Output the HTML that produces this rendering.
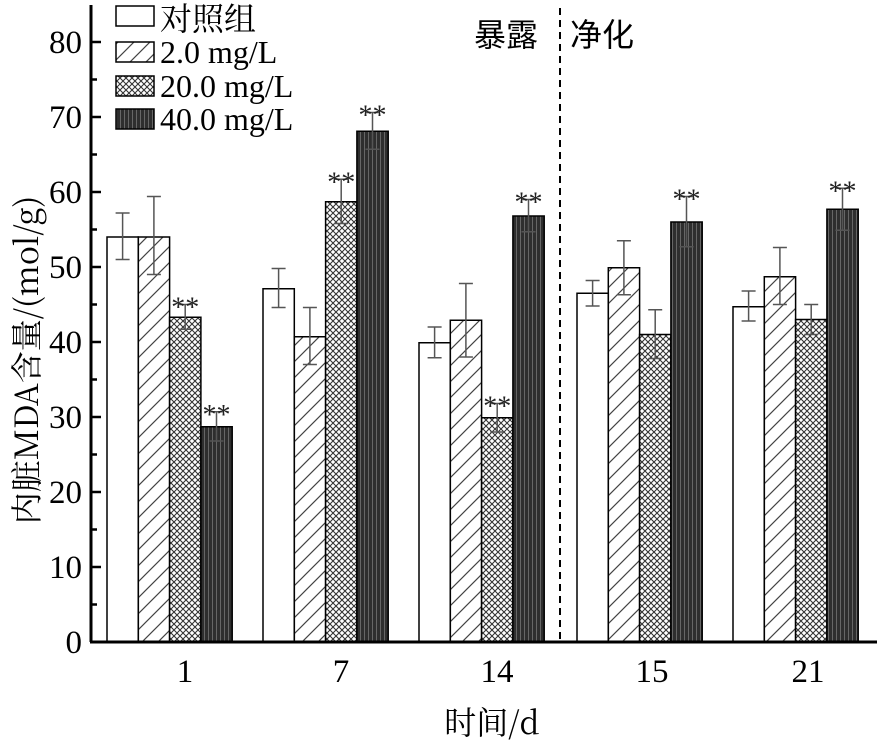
<!DOCTYPE html><html><head><style>body{margin:0;background:#fff}</style></head><body>
<svg width="887" height="746" xmlns="http://www.w3.org/2000/svg" font-family="'Liberation Serif','Noto Serif CJK SC',serif">
<defs>
<pattern id="h" width="16" height="16" patternUnits="userSpaceOnUse"><path d="M-4,20 L20,-4 M-4,4 L4,-4 M12,20 L20,12" stroke="#444" stroke-width="1.2"/></pattern>
<pattern id="c" width="6" height="6" patternUnits="userSpaceOnUse"><rect width="6" height="6" fill="#fff"/><path d="M0,0 L6,6 M6,0 L0,6" stroke="#333" stroke-width="1.1"/></pattern>
<pattern id="b" width="4" height="4" patternUnits="userSpaceOnUse"><rect width="4" height="4" fill="#2e2e2e"/><rect x="0" width="1" height="4" fill="#666"/></pattern>
</defs>
<g id="bars" stroke="#000" stroke-width="1.5"></g>
<g id="err" stroke="#555" stroke-width="1.5"></g>
<g id="stars" font-size="28" text-anchor="middle" fill="#222"></g>
<line x1="560" y1="8" x2="560" y2="641" stroke="#000" stroke-width="2" stroke-dasharray="7,5"/>
<text x="474" y="46" font-size="32" font-family="'Noto Sans CJK SC',sans-serif">暴露</text>
<text x="570" y="46" font-size="32" font-family="'Noto Sans CJK SC',sans-serif">净化</text>
<line x1="91" y1="5" x2="91" y2="642" stroke="#000" stroke-width="3"/>
<line x1="90" y1="642" x2="877" y2="642" stroke="#000" stroke-width="3"/>
<g id="ticks" stroke="#000" stroke-width="2.5"></g>
<g id="yl" font-size="33" text-anchor="end"></g>
<g font-size="33" text-anchor="middle">
<text x="185" y="682">1</text><text x="341" y="682">7</text><text x="497" y="682">14</text><text x="652" y="682">15</text><text x="808" y="682">21</text>
<text x="492" y="734" font-family="'Noto Serif CJK SC',serif" font-size="32">时间/d</text>
</g>
<text transform="translate(38,360) rotate(-90)" font-size="32" text-anchor="middle" font-family="'Noto Serif CJK SC',serif">内脏MDA含量/(mol/g)</text>
<g stroke="#000" stroke-width="1.5">
<rect x="116" y="6" width="38" height="20" fill="#fff"/>
<rect x="116" y="42" width="38" height="20" fill="url(#h)"/>
<rect x="116" y="76" width="38" height="20" fill="url(#c)"/>
<rect x="116" y="109" width="38" height="20" fill="url(#b)"/>
</g>
<g font-size="32">
<text x="160" y="30" font-family="'Noto Serif CJK SC',serif">对照组</text>
<text x="160" y="63">2.0 mg/L</text>
<text x="160" y="97">20.0 mg/L</text>
<text x="160" y="130">40.0 mg/L</text>
</g>
<script>
var ns="http://www.w3.org/2000/svg";
function el(p,t,a,tx){var e=document.createElementNS(ns,t);for(var k in a)e.setAttribute(k,a[k]);if(tx)e.textContent=tx;document.getElementById(p).appendChild(e);}
function Y(v){return 642-7.5*v;}
var d=[[[54,51,57.2],[54,49,59.4],[43.3,41.7,45],[28.7,26.8,30.7]],
[[47.1,44.6,49.8],[40.7,37,44.6],[58.7,55.8,61.7],[68.1,65.7,70.6]],
[[39.9,37.9,42],[42.9,38,47.8],[29.9,28,31.8],[56.8,54.7,59]],
[[46.5,44.8,48.2],[49.9,46.3,53.5],[41,37.8,44.3],[56,52.7,59.4]],
[[44.7,42.8,46.8],[48.7,45,52.6],[43,41,45],[57.7,54.9,60.5]]];
var st=[[0,2],[0,3],[1,2],[1,3],[2,2],[2,3],[3,3],[4,3]];
var fills=["#fff","url(#h)","url(#c)","url(#b)"];
var x0=[107,263,419,577,733];
for(var g=0;g<5;g++)for(var i=0;i<4;i++){var b=d[g][i],x=x0[g]+i*31.3;
el("bars","rect",{x:x,y:Y(b[0]),width:31.3,height:642-Y(b[0]),fill:fills[i]});
var cx=x+15.6;el("err","line",{x1:cx,y1:Y(b[1]),x2:cx,y2:Y(b[2])});el("err","line",{x1:cx-7,y1:Y(b[2]),x2:cx+7,y2:Y(b[2])});el("err","line",{x1:cx-7,y1:Y(b[1]),x2:cx+7,y2:Y(b[1])});}
st.forEach(function(s){var b=d[s[0]][s[1]],cx=x0[s[0]]+s[1]*31.3+15.6;el("stars","text",{x:cx,y:Y(b[2])+12},"**");});
for(var v=0;v<=80;v+=5){var y=Y(v);el("ticks","line",{x1:91,y1:y,x2:v%10?97:101,y2:y});if(v%10==0)el("yl","text",{x:82,y:y+11},""+v);}
</script>
</svg></body></html>
